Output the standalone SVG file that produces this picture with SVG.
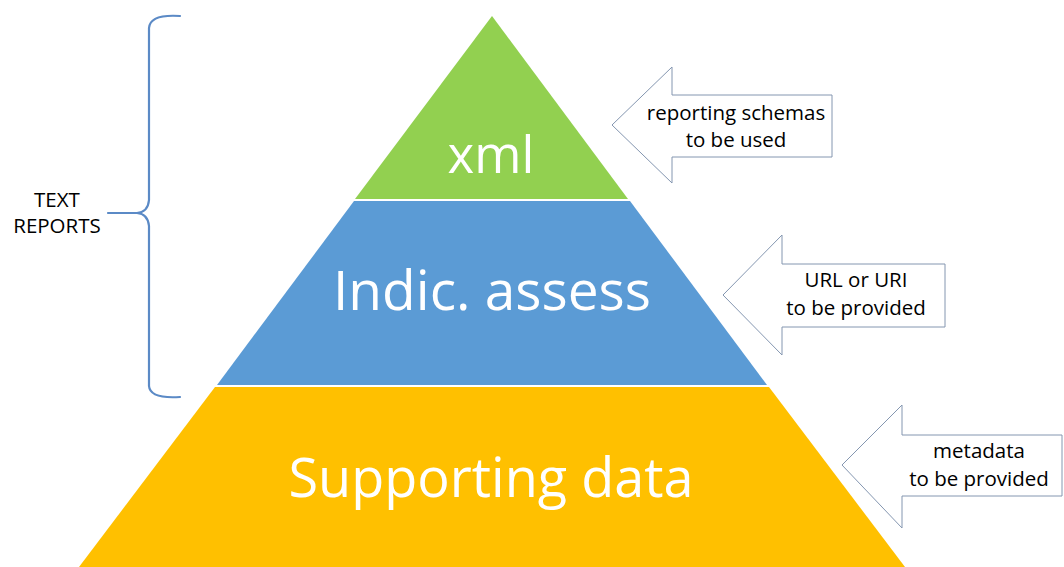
<svg xmlns="http://www.w3.org/2000/svg" width="1064" height="567" viewBox="0 0 1064 567">
  <style>
    .layer-label { font-family: "Open Sans", "Liberation Sans", sans-serif; fill: #ffffff; text-anchor: middle; }
    .note { font-family: "Open Sans", "Liberation Sans", sans-serif; font-size: 20.5px; fill: #000000; text-anchor: middle; }
    .callout { fill: #ffffff; stroke: #8496b0; stroke-width: 1; }
    .brace { fill: none; stroke: #5b8ac6; stroke-width: 2.2; stroke-linecap: round; }
  </style>
  <rect width="1064" height="567" fill="#ffffff"/>

  <!-- pyramid layers -->
  <g id="layer-xml">
    <polygon points="492,16 628,199 355,199" fill="#92d050"/>
    <text class="layer-label" x="491" y="173" font-size="51">xml</text>
  </g>
  <g id="layer-indic">
    <polygon points="354,201 630,201 767,385 217,385" fill="#5b9bd5"/>
    <text class="layer-label" x="492" y="310" font-size="55">Indic. assess</text>
  </g>
  <g id="layer-supporting">
    <polygon points="215,387 769,387 905,567 79,567" fill="#ffc000"/>
    <text class="layer-label" x="491" y="497" font-size="54">Supporting data</text>
  </g>

  <!-- callout arrows -->
  <g id="note-schemas">
    <polygon class="callout" points="612,125 672,67 672,95 832,95 832,157 672,157 672,183"/>
    <text class="note" x="736" y="120">reporting schemas</text>
    <text class="note" x="736" y="147">to be used</text>
  </g>
  <g id="note-url">
    <polygon class="callout" points="723,295 782,235 782,264 945,264 945,327 782,327 782,355"/>
    <text class="note" x="856" y="287">URL or URI</text>
    <text class="note" x="856" y="315">to be provided</text>
  </g>
  <g id="note-metadata">
    <polygon class="callout" points="842,465 902,405 902,435 1062,435 1062,496 902,496 902,528"/>
    <text class="note" x="979" y="458">metadata</text>
    <text class="note" x="979" y="486">to be provided</text>
  </g>

  <!-- brace grouping the upper two layers -->
  <g id="text-reports">
    <path class="brace" d="M180,16 Q150,14 149,28 L149,200 Q148,212 137,213 L108,213 M137,213 Q148,214 149,226 L149,386 Q150,399 180,397"/>
    <text class="note" x="57" y="207" font-size="20">TEXT</text>
    <text class="note" x="57" y="233" font-size="20">REPORTS</text>
  </g>
</svg>
